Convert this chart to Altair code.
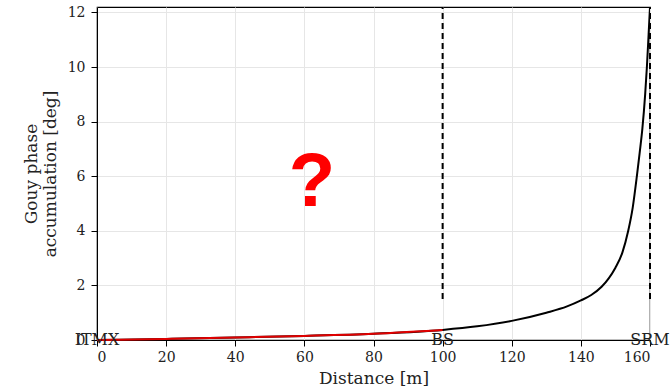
import altair as alt
import pandas as pd

# Gouy phase accumulation
dist = [0, 20, 40, 60, 80, 100, 110, 120, 130, 136, 140, 143, 146, 148, 150, 152, 153.7,
        155, 156.2, 157, 157.8, 158.6, 159.1, 159.6, 160]
phase = [0.0, 0.04, 0.09, 0.15, 0.23, 0.37, 0.5, 0.7, 1.0, 1.23, 1.45, 1.65, 1.95, 2.25, 2.65,
         3.2, 4.0, 4.85, 6.0, 6.85, 7.75, 9.0, 10.0, 11.2, 12.2]
red_dist = [0, 20, 40, 60, 80, 100]
red_phase = [0.0, 0.04, 0.09, 0.15, 0.23, 0.37]

marker_x = [0, 100, 160]
marker_names = ["ITMX", "BS", "SRM"]
dashed_x = [100, 160]
dashed_lo = [1.5, 1.5]
dashed_hi = [12.2, 12.2]

FONT = "DejaVu Serif"

xscale = alt.Scale(domain=[0, 160], nice=False, zero=False)
yscale = alt.Scale(domain=[0, 12.2], nice=False, zero=False)

df = pd.DataFrame({"d": dist, "p": phase})
dfr = pd.DataFrame({"d": red_dist, "p": red_phase})
dfm = pd.DataFrame({"d": marker_x, "name": marker_names, "p": [0] * 3})
dfd = pd.DataFrame({"d": dashed_x, "lo": dashed_lo, "hi": dashed_hi})

xaxis = alt.Axis(title="Distance [m]", values=list(range(0, 161, 20)), grid=True,
                 gridColor="#e6e6e6", domainColor="black", tickColor="black",
                 tickSize=6, labelFont=FONT, labelFontSize=14, labelColor="#222",
                 titleFont=FONT, titleFontSize=17, titleFontWeight="normal",
                 titleColor="#222", labelPadding=4, titlePadding=6)
yaxis = alt.Axis(title=["Gouy phase", "accumulation [deg]"], values=[0, 2, 4, 6, 8, 10, 12],
                 grid=True, gridColor="#e6e6e6", domainColor="black", tickColor="black",
                 tickSize=6, labelFont=FONT, labelFontSize=14, labelColor="#222",
                 titleFont=FONT, titleFontSize=17, titleFontWeight="normal",
                 titleColor="#222", titleLineHeight=19, labelPadding=6, titlePadding=8)

base = alt.Chart(df).mark_line(color="black", strokeWidth=2, clip=True,
                               interpolate="monotone").encode(
    x=alt.X("d:Q", scale=xscale, axis=xaxis),
    y=alt.Y("p:Q", scale=yscale, axis=yaxis),
)
red = alt.Chart(dfr).mark_line(color="#e00000", strokeWidth=2, interpolate="monotone").encode(
    x=alt.X("d:Q", scale=xscale), y=alt.Y("p:Q", scale=yscale)
)
dashed = alt.Chart(dfd).mark_rule(color="black", strokeWidth=2, strokeDash=[6, 4]).encode(
    x=alt.X("d:Q", scale=xscale), y=alt.Y("lo:Q", scale=yscale), y2="hi:Q"
)
labels = alt.Chart(dfm).mark_text(font=FONT, fontSize=16, color="#222", baseline="middle").encode(
    x=alt.X("d:Q", scale=xscale), y=alt.Y("p:Q", scale=yscale), text="name:N"
)
qmark = alt.Chart(pd.DataFrame({"d": [62.2], "p": [5.74], "t": ["?"]})).mark_text(
    font="Liberation Sans", fontWeight="bold", fontSize=76, color="#ff0000", baseline="middle"
).encode(x=alt.X("d:Q", scale=xscale), y=alt.Y("p:Q", scale=yscale), text="t:N")

chart = alt.layer(base, red, dashed, labels, qmark).properties(
    width=553, height=333,
    padding={"left": 97, "top": 7, "right": 20, "bottom": 51},
    autosize=alt.AutoSizeParams(type="none"),
    background="white",
).configure_view(stroke="black", strokeWidth=1.2)

chart.save("out.html", embed_options={"renderer": "svg", "actions": False})
